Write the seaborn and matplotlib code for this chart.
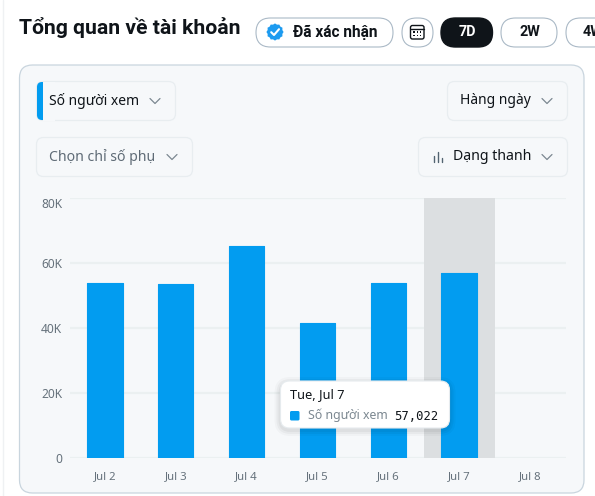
import matplotlib
matplotlib.use("Agg")
import matplotlib.pyplot as plt
from matplotlib.patches import FancyBboxPatch, Rectangle, Polygon
from matplotlib.transforms import ScaledTranslation
import seaborn as sns
import pandas as pd
import numpy as np

days = ["Jul 2", "Jul 3", "Jul 4", "Jul 5", "Jul 6", "Jul 7", "Jul 8"]
viewers = [53800, 53500, 65300, 41600, 53800, 57022, None]
y_ticks = [0, 20000, 40000, 60000, 80000]
y_labels = ["0", "20K", "40K", "60K", "80K"]
highlight_day = "Jul 7"

W, H = 595, 496
BLUE = "#1d9bf0"
BAR = "#029cf0"
FONT = ["Noto Sans", "DejaVu Sans"]
BOLD = ["Roboto", "Liberation Sans", "DejaVu Sans"]

sns.set_theme(style="white")
plt.rcParams["font.family"] = FONT

fig = plt.figure(figsize=(W / 100, H / 100), dpi=100, facecolor="white")

bg = fig.add_axes([0, 0, 1, 1], zorder=0)
bg.set_xlim(0, W)
bg.set_ylim(H, 0)
bg.axis("off")


def rbox(ax, x0, y0, x1, y1, r, fc, ec, lw=1.0, z=1):
    p = FancyBboxPatch((x0 + r, y0 + r), x1 - x0 - 2 * r, y1 - y0 - 2 * r,
                       boxstyle=f"round,pad={r},rounding_size={r}",
                       fc=fc, ec=ec, lw=lw, zorder=z)
    ax.add_patch(p)
    return p


def chevron(ax, cx, cy, color="#7c8891", z=3):
    ax.plot([cx - 5, cx, cx + 5], [cy - 2.5, cy + 2.5, cy - 2.5], color=color, lw=0.9, zorder=z)


bg.plot([2.5, 2.5], [0, H], color="#eff1f3", lw=1, zorder=0)

# header
bg.text(19, 28, "Tổng quan về tài khoản", fontsize=15.2, fontweight="bold", family=BOLD, color="#0f1419", va="center", ha="left")

rbox(bg, 256, 18, 393, 47, 14.5, "white", "#aab9c6", lw=0.8)
# scalloped verified badge
ang = [2 * np.pi * k / 24 for k in range(24)]
rad = [8.6 if k % 2 == 0 else 7.6 for k in range(24)]
bg.add_patch(Polygon([(275 + r * np.cos(a), 32 + r * np.sin(a)) for a, r in zip(ang, rad)],
                     closed=True, fc=BLUE, ec="none", zorder=3))
bg.plot([271.2, 274, 279], [32.2, 35, 29.2], color="white", lw=1.5, zorder=4)
bg.text(293, 32, "Đã xác nhận", fontsize=11.2, fontweight="bold", family=BOLD, color="#0f1419", va="center", ha="left")

rbox(bg, 402, 18, 433, 47, 14.5, "white", "#aab9c6", lw=0.8)
rbox(bg, 410.5, 25.5, 424, 39, 2, "white", "#0f1419", lw=1.0, z=3)
bg.plot([410.5, 424], [28.5, 28.5], color="#0f1419", lw=1.0, zorder=4)
for px in (414, 417.3, 420.6):
    for py in (32, 35.2):
        bg.add_patch(Rectangle((px - 0.7, py - 0.7), 1.4, 1.4, fc="#0f1419", ec="none", zorder=4))

rbox(bg, 441, 18, 492.5, 47, 14.5, "#0f1419", "#0f1419")
bg.text(467, 32.5, "7D", fontsize=10.4, fontweight="bold", family=BOLD, color="white", va="center", ha="center")
rbox(bg, 501, 18, 557, 47, 14.5, "white", "#aab9c6", lw=0.8)
bg.text(529.5, 32.5, "2W", fontsize=10.4, fontweight="bold", family=BOLD, color="#0f1419", va="center", ha="center")
rbox(bg, 566, 18, 625, 47, 14.5, "white", "#aab9c6", lw=0.8)
bg.text(583, 32.5, "4W", fontsize=10.4, fontweight="bold", family=BOLD, color="#0f1419", va="center", ha="left")

# card
rbox(bg, 19.5, 65, 584, 493, 13, "#f6f8fa", "#c9d5de", lw=0.9)

# dropdowns
rbox(bg, 36.5, 81.5, 175.5, 120.5, 7, "#f6f8fa", "#e8edf0", lw=0.9)
rbox(bg, 37, 82, 48, 120, 5, BAR, "none", lw=0, z=2)
bg.add_patch(Rectangle((43, 81.5), 12, 39.5, fc="#f6f8fa", ec="none", zorder=2))
bg.text(49, 101, "Số người xem", fontsize=10, color="#0f1419", va="center", ha="left", zorder=3)
chevron(bg, 155, 101)

rbox(bg, 447.5, 81.5, 567.5, 120.5, 7, "#f6f8fa", "#e8edf0", lw=0.9)
bg.text(460, 101, "Hàng ngày", fontsize=10, color="#0f1419", va="center", ha="left", zorder=3)
chevron(bg, 547, 101)

rbox(bg, 36.5, 137.5, 192.5, 176.5, 7, "#f6f8fa", "#e8edf0", lw=0.9)
bg.text(49, 157, "Chọn chỉ số phụ", fontsize=10.1, color="#5f6b76", va="center", ha="left", zorder=3)
chevron(bg, 172, 157)

rbox(bg, 418.5, 137.5, 567.5, 176.5, 7, "#f6f8fa", "#e8edf0", lw=0.9)
for px, top in ((433.5, 156), (437.5, 152), (441.5, 158)):
    bg.plot([px, px], [162, top], color="#536471", lw=1.0, zorder=3)
bg.text(453, 157, "Dạng thanh", fontsize=10.2, color="#0f1419", va="center", ha="left", zorder=3)
chevron(bg, 547, 157)

# chart
ax_l, ax_r, ax_t, ax_b = 69.5, 565.5, 198, 458
ax = fig.add_axes([ax_l / W, 1 - ax_b / H, (ax_r - ax_l) / W, (ax_b - ax_t) / H], zorder=2)
ax.patch.set_alpha(0)
df = pd.DataFrame({"day": days, "viewers": viewers})
sns.barplot(data=df, x="day", y="viewers", color=BAR, saturation=1, width=0.5, ax=ax, zorder=3,
            edgecolor=BAR, linewidth=0.8)
for b in ax.patches:
    b.set_joinstyle("round")
ax.set_xlim(-0.5, len(days) - 0.5)
ax.set_ylim(0, 80000)
ax.set_yticks(y_ticks, y_labels)
ax.set_xlabel("")
ax.set_ylabel("")
ax.grid(axis="y", color="#ebf0f1", lw=1.6, zorder=0)
ax.set_axisbelow(True)
ax.axvspan(days.index(highlight_day) - 0.5, days.index(highlight_day) + 0.5, color="#dcdfe1", lw=0, zorder=1)
for s in ax.spines.values():
    s.set_visible(False)
ax.tick_params(axis="x", length=0, pad=9.5, labelsize=8.2, labelcolor="#66727c")
ax.tick_params(axis="y", length=0, pad=5.4, labelsize=8.6, labelcolor="#66727c")
# top label sits just below its gridline
top_label = ax.get_yticklabels()[-1]
top_label.set_transform(top_label.get_transform() + ScaledTranslation(0, -3.6 / 72, fig.dpi_scale_trans))

# tooltip overlay
fg = fig.add_axes([0, 0, 1, 1], zorder=5)
fg.set_xlim(0, W)
fg.set_ylim(H, 0)
fg.axis("off")
fg.patch.set_alpha(0)
for i, a in enumerate((0.025, 0.035, 0.04)):
    grow = 6 - 2 * i
    rbox(fg, 280.5 - grow, 381 - grow + 2, 449.5 + grow, 428 + grow + 2, 10 + grow, "#000000", "none", lw=0, z=4).set_alpha(a)
rbox(fg, 280.5, 381, 449.5, 428, 9, "white", "#e6ebee", lw=0.8, z=5)
fg.text(290, 394.5, "Tue, Jul 7", fontsize=9.2, color="#0f1419", va="center", ha="left", zorder=6)
rbox(fg, 290, 411, 299.5, 420.5, 1.5, BAR, "none", lw=0, z=6)
fg.text(307.5, 415.5, "Số người xem", fontsize=8.9, color="#7c8891", va="center", ha="left", zorder=6)
fg.text(438.5, 416, "57,022", fontsize=8.8, family=["DejaVu Sans Mono"], color="#0f1419", va="center", ha="right", zorder=6)

fig.savefig("out.png", dpi=100)
